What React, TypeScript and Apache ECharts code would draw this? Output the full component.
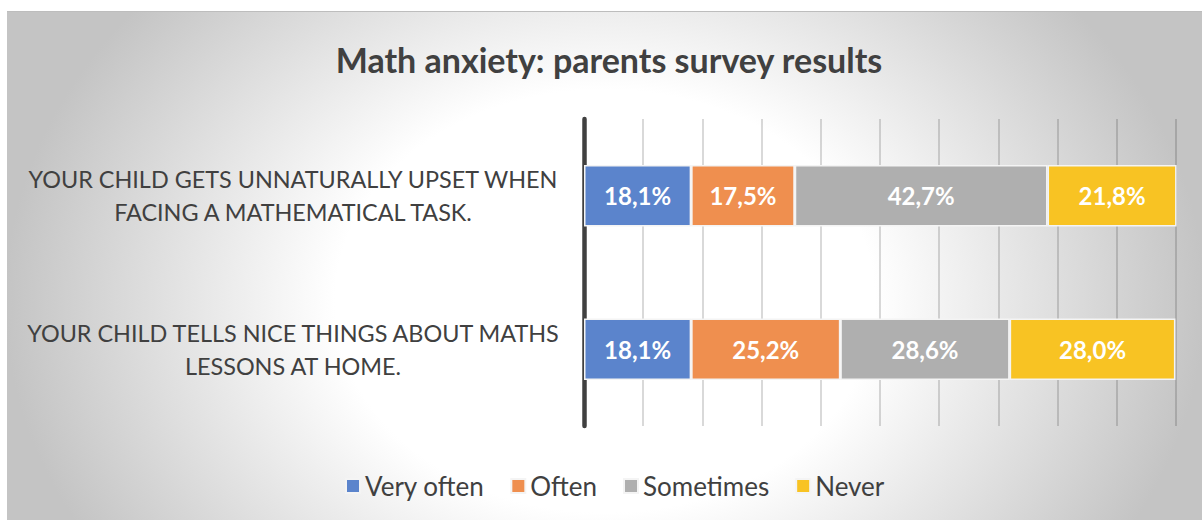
import React, { useEffect, useRef } from "react";
import * as echarts from "echarts";

const categories = [
  "YOUR CHILD TELLS NICE THINGS ABOUT MATHS\nLESSONS AT HOME.",
  "YOUR CHILD GETS UNNATURALLY UPSET WHEN\nFACING A MATHEMATICAL TASK.",
];
const seriesNames = ["Very often", "Often", "Sometimes", "Never"];
const veryOften = [18.1, 18.1];
const often = [25.2, 17.5];
const sometimes = [28.6, 42.7];
const never = [28.0, 21.8];
const colors = ["#5B84CC", "#EF8F4F", "#AFAFAF", "#F8C323"];
const xTicks = [0, 10, 20, 30, 40, 50, 60, 70, 80, 90, 100];

const FONT = "Lato, 'Open Sans', sans-serif";

export default function App() {
  const ref = useRef<HTMLDivElement>(null);
  useEffect(() => {
    if (!ref.current) return;
    const chart = echarts.init(ref.current, null, { renderer: "svg" });
    const data = [veryOften, often, sometimes, never];
    chart.setOption({
      animation: false,
      backgroundColor: "transparent",
      textStyle: { fontFamily: FONT },
      title: {
        text: "Math anxiety: parents survey results",
        left: 597,
        top: 25,
        textAlign: "center",
        textStyle: { fontFamily: FONT, fontSize: 34, fontWeight: "bold", color: "#404040" },
      },
      legend: {
        data: seriesNames,
        left: 333,
        top: 456,
        itemWidth: 14,
        itemHeight: 14,
        itemGap: 26,
        icon: "rect",
        textStyle: { fontFamily: FONT, fontSize: 26, color: "#404040" },
      },
      grid: { left: 577, right: 26, top: 107, bottom: 94, containLabel: false },
      xAxis: {
        type: "value",
        min: xTicks[0],
        max: xTicks[xTicks.length - 1],
        interval: xTicks[1] - xTicks[0],
        axisLabel: { show: false },
        axisLine: { show: false },
        axisTick: { show: false },
        splitLine: { show: true, lineStyle: { color: "rgba(0,0,0,0.2)", width: 1.5 } },
      },
      yAxis: {
        type: "category",
        data: categories,
        axisLine: { show: true, lineStyle: { color: "#404040", width: 4.5 } },
        axisTick: { show: false },
        axisLabel: {
          align: "center",
          margin: 291,
          fontFamily: FONT,
          fontSize: 23.4,
          lineHeight: 33,
          color: "#404040",
        },
      },
      series: seriesNames.map((name, i) => ({
        name,
        type: "bar",
        stack: "total",
        barWidth: "40%",
        data: data[i],
        itemStyle: { color: colors[i], borderColor: "#f4f4f4", borderWidth: 1.5 },
        label: {
          show: true,
          position: "inside",
          color: "#ffffff",
          fontFamily: FONT,
          fontWeight: "bold",
          fontSize: 24,
          formatter: (p: any) => p.value.toFixed(1).replace(".", ",") + "%",
        },
      })),
    });
    return () => chart.dispose();
  }, []);
  return (
    <div
      style={{
        position: "absolute",
        left: 7,
        top: 11,
        width: 1195,
        height: 509,
        borderTop: "1px solid #bdbdbd",
        boxSizing: "border-box",
        background:
          "radial-gradient(ellipse 600px 470px at 598px 289px, #ffffff 0%, #ffffff 45%, #c4c4c4 100%)",
      }}
    >
      <div ref={ref} style={{ width: 1195, height: 508 }} />
    </div>
  );
}
